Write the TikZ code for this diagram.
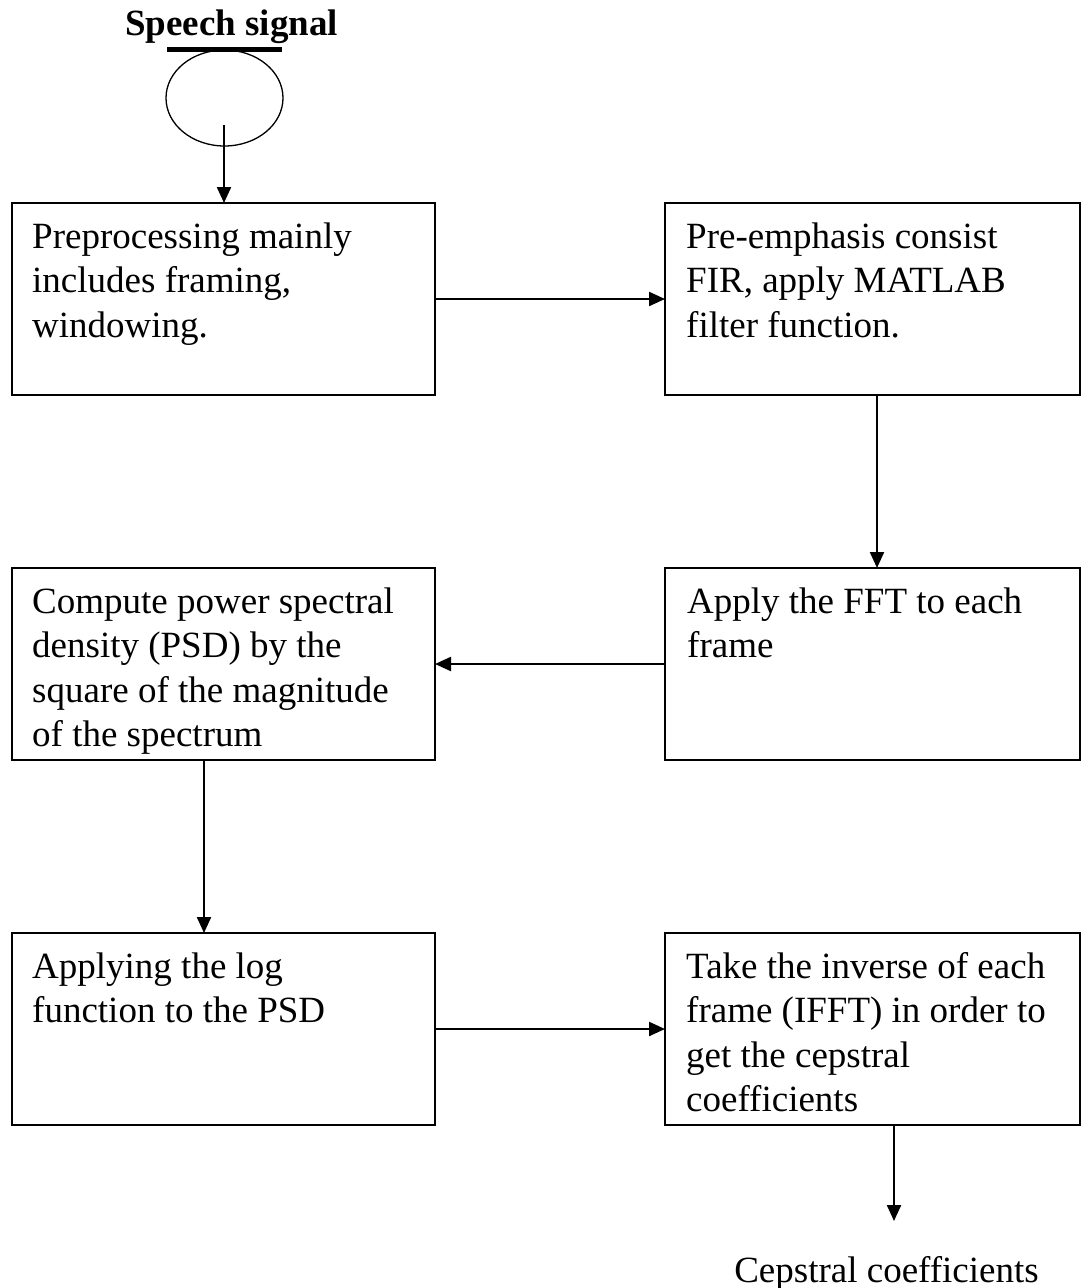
\documentclass[tikz,border=0pt]{standalone}
\usepackage{fontspec}
\setmainfont{Liberation Serif}
\usetikzlibrary{arrows.meta,calc,shapes.geometric}
\begin{document}
\begin{tikzpicture}[x=1pt,y=-1pt,
  box/.style={draw,line width=1.5pt,inner sep=0pt,outer sep=0pt},
  lbox/.style={box,minimum width=423pt,minimum height=192pt},
  rbox/.style={box,minimum width=415pt,minimum height=192pt},
  txt/.style={anchor=base west,inner sep=0pt,font=\fontsize{37}{44.5}\selectfont},
  arr/.style={line width=2.2pt,-{Triangle[length=16pt,width=14pt]}}]
\useasboundingbox (0,0) rectangle (1081,1288);
% source
\node[anchor=base,inner sep=0pt,font=\fontsize{37}{44}\selectfont\bfseries] (title) at (231.5,35) {Speech signal};
\node[draw,line width=1.3pt,ellipse,minimum width=117pt,minimum height=96pt,inner sep=0pt] (src) at (224.5,98) {};
\draw[line width=5pt] (167,49.5) -- (282,49.5);
\coordinate (s) at (224,125);
% boxes
\node[lbox] (b1) at (223.5,299) {};
\node[rbox] (b2) at (872.5,299) {};
\node[lbox] (b3) at (223.5,664) {};
\node[rbox] (b4) at (872.5,664) {};
\node[lbox] (b5) at (223.5,1029) {};
\node[rbox] (b6) at (872.5,1029) {};
% texts
\node[txt] (t1) at (32,248) {\parbox[t]{400pt}{\raggedright Preprocessing mainly\\includes framing,\\windowing.}};
\node[txt] (t2) at (686,248) {\parbox[t]{390pt}{\raggedright Pre-emphasis consist\\FIR, apply MATLAB\\filter function.}};
\node[txt] (t3) at (32,613) {\parbox[t]{400pt}{\raggedright Compute power spectral\\density (PSD) by the\\square of the magnitude\\of the spectrum}};
\node[txt] (t4) at (687,613) {\parbox[t]{390pt}{\raggedright Apply the FFT to each\\frame}};
\node[txt] (t5) at (32,978) {\parbox[t]{400pt}{\raggedright Applying the log\\function to the PSD}};
\node[txt] (t6) at (686,978) {\parbox[t]{390pt}{\raggedright Take the inverse of each\\frame (IFFT) in order to\\get the cepstral\\coefficients}};
% output
\coordinate (e) at (894,1221);
\node[anchor=base,inner sep=0pt,font=\fontsize{37}{44}\selectfont] (out) at (886.5,1282) {Cepstral coefficients};
% connectors
\draw[arr] (s) -- (s |- b1.north);
\draw[arr] (b1.east) -- (b2.west);
\draw[arr] ([xshift=4.5pt]b2.south) -- ([xshift=4.5pt]b4.north);
\draw[arr] (b4.west) -- (b3.east);
\draw[arr] ([xshift=-19.5pt]b3.south) -- ([xshift=-19.5pt]b5.north);
\draw[arr] (b5.east) -- (b6.west);
\draw[arr] (b6.south -| e) -- (e);
\end{tikzpicture}
\end{document}
